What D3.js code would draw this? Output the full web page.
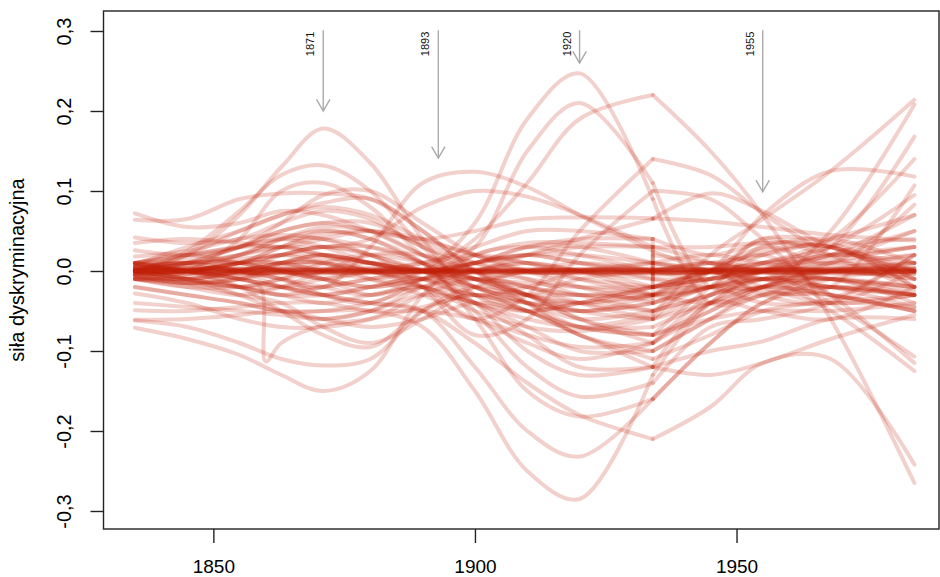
<!DOCTYPE html>
<html><head><meta charset="utf-8">
<script src="https://cdn.jsdelivr.net/npm/d3@7"></script>
<style>body{margin:0;background:#fff}svg text{font-family:"Liberation Sans",Arial,Helvetica,sans-serif}</style>
</head><body><svg id="c" width="940" height="577"></svg>
<script>
// ---------------- data ----------------
const years = [1835,1845,1855,1863,1871,1880,1890,1900,1910,1920,1934,1945,1955,1968,1984];
const breakYear = 1934;

const peakLines = [
  [0.000,0.020,0.070,0.130,0.178,0.135,0.040,-0.030,-0.050,-0.040,-0.020,0.000,0.025,0.030,-0.020],
  [0.000,0.025,0.075,0.120,0.132,0.100,0.030,-0.020,-0.030,-0.010,0.000,0.010,0.000,0.020,0.050],
  [0.005,0.005,0.000,-0.010,-0.020,0.030,0.110,0.124,0.105,0.070,0.025,0.000,-0.010,0.000,-0.010],
  [0.000,0.010,0.020,0.030,0.030,0.040,0.080,0.100,0.093,0.070,0.030,0.010,-0.020,-0.040,-0.030],
  [0.010,0.000,-0.020,-0.030,-0.030,-0.020,0.000,0.060,0.190,0.247,0.090,-0.040,-0.030,0.000,0.020],
  [0.000,-0.010,0.000,0.010,0.020,0.010,0.000,0.030,0.150,0.210,0.110,-0.020,-0.020,0.010,0.030],
  [0.000,-0.010,-0.020,-0.030,-0.020,-0.010,0.000,0.040,0.110,0.190,0.220,0.150,0.070,-0.060,-0.265],
  [0.000,0.000,0.010,0.010,0.000,0.000,-0.020,-0.060,-0.030,0.050,0.140,0.120,0.072,0.020,-0.020],
  [-0.005,-0.015,-0.010,0.000,0.010,0.000,-0.010,0.000,0.020,0.040,0.065,0.097,0.075,0.030,0.000],
  [0.000,0.010,0.030,0.050,0.060,0.050,0.040,0.050,0.065,0.067,0.066,0.062,0.055,0.045,0.038]
];
const risingLines = [
  [0.000,0.000,0.010,0.010,0.000,-0.010,-0.020,-0.040,-0.060,-0.070,-0.055,0.020,0.065,0.125,0.214],
  [0.010,0.000,0.000,0.010,0.020,0.010,0.000,-0.020,-0.040,-0.060,-0.050,-0.020,-0.020,0.050,0.208],
  [-0.010,-0.015,-0.020,-0.030,-0.040,-0.030,-0.020,-0.030,-0.040,-0.040,-0.030,0.000,0.070,0.125,0.118],
  [0.005,0.010,0.000,-0.010,-0.020,-0.030,-0.010,0.010,0.020,0.010,-0.010,-0.010,0.000,0.030,0.168],
  [-0.010,-0.020,-0.030,-0.020,0.000,0.020,0.020,0.000,-0.020,-0.030,-0.020,0.000,0.010,0.040,0.140],
  [0.000,0.010,0.030,0.040,0.030,0.010,-0.010,-0.030,-0.020,0.000,0.010,0.000,-0.025,-0.020,0.107],
  [-0.005,0.000,0.010,0.030,0.050,0.040,0.010,-0.010,0.000,0.010,0.000,-0.010,0.010,0.030,0.095],
  [0.005,0.010,0.010,0.000,-0.010,0.000,0.010,0.020,0.010,-0.010,-0.030,-0.020,0.030,0.010,0.083],
  [-0.005,-0.015,-0.010,0.010,0.020,0.010,0.000,0.010,0.030,0.030,0.010,0.000,0.005,0.020,0.070],
  [0.000,0.005,0.020,0.030,0.020,0.000,-0.020,-0.040,-0.050,-0.040,-0.020,0.000,0.010,0.015,0.050]
];
const fallingLines = [
  [0.000,0.000,-0.010,-0.020,-0.030,-0.040,-0.050,-0.090,-0.140,-0.180,-0.210,-0.170,-0.115,-0.110,-0.242],
  [0.010,0.020,0.010,0.000,-0.010,-0.020,-0.010,0.010,0.020,0.010,0.000,0.010,0.000,-0.040,-0.107],
  [-0.010,-0.020,-0.020,-0.010,0.010,0.020,0.010,-0.010,-0.030,-0.050,-0.030,0.000,0.020,-0.030,-0.115],
  [0.000,-0.010,-0.030,-0.050,-0.060,-0.050,-0.020,0.000,0.010,0.000,-0.010,-0.020,-0.010,-0.050,-0.125]
];
const troughLines = [
  [-0.020,-0.030,-0.040,-0.050,-0.050,-0.050,-0.070,-0.150,-0.250,-0.285,-0.130,-0.040,-0.010,0.000,0.010],
  [0.010,0.000,-0.010,-0.020,-0.030,-0.040,-0.050,-0.120,-0.200,-0.232,-0.160,-0.090,-0.040,-0.020,-0.030],
  [-0.071,-0.085,-0.105,-0.130,-0.150,-0.125,-0.030,0.020,0.030,0.020,0.000,0.000,0.040,0.035,-0.010],
  [-0.062,-0.070,-0.090,-0.110,-0.118,-0.110,-0.050,-0.020,-0.030,-0.050,-0.060,-0.030,-0.020,-0.030,-0.050],
  [0.010,0.020,0.030,0.040,0.040,0.020,0.000,-0.040,-0.100,-0.130,-0.120,-0.040,-0.050,-0.060,-0.020],
  [0.000,0.010,0.020,0.040,0.050,0.040,0.010,-0.050,-0.120,-0.157,-0.140,-0.070,-0.060,-0.040,0.020],
  [-0.005,-0.010,0.000,0.020,0.030,0.030,0.010,-0.060,-0.150,-0.182,-0.160,-0.090,-0.040,-0.010,0.000],
  [0.000,-0.010,-0.020,-0.010,0.000,0.010,0.000,-0.030,-0.050,-0.080,-0.120,-0.130,-0.115,-0.085,-0.055],
  [0.008,0.010,0.000,-0.020,-0.030,-0.020,-0.010,-0.040,-0.080,-0.120,-0.120,-0.100,-0.088,-0.060,-0.060]
];
const humpLines = [
  [0.064,0.065,0.090,0.097,0.097,0.090,0.050,0.000,-0.030,-0.040,-0.030,0.000,-0.030,-0.040,0.000],
  [-0.010,0.000,0.040,0.100,0.110,0.080,0.020,-0.010,-0.020,-0.030,-0.030,-0.010,0.040,0.020,0.030],
  [0.008,0.030,0.050,0.070,0.085,0.090,0.050,0.000,-0.040,-0.070,-0.080,-0.020,0.020,0.030,-0.020],
  [0.072,0.055,0.060,0.075,0.070,0.050,0.020,0.000,-0.010,-0.020,-0.030,-0.020,0.000,0.000,-0.010],
  [0.000,0.020,0.050,0.070,0.080,0.070,0.040,0.020,0.000,-0.020,-0.040,-0.020,-0.040,-0.035,0.020],
  [0.026,0.020,0.030,0.050,0.060,0.060,0.030,0.000,-0.030,-0.060,-0.090,-0.050,-0.020,-0.010,-0.040],
  [-0.010,-0.005,0.020,0.040,0.055,0.050,0.020,-0.010,-0.040,-0.080,-0.100,-0.060,-0.020,0.000,0.000],
  [0.018,0.025,0.040,0.045,0.040,0.030,0.010,-0.020,-0.050,-0.070,-0.070,-0.040,-0.020,-0.020,-0.030],
  [0.035,0.040,0.035,0.030,0.040,0.050,0.040,0.020,0.010,0.000,0.000,0.010,0.020,0.040,0.070],
  [0.042,0.035,0.040,0.060,0.075,0.065,0.030,0.010,0.000,-0.010,-0.020,-0.010,0.000,-0.010,-0.030],
  [0.010,0.015,0.030,0.060,0.095,0.100,0.060,0.020,0.000,0.000,0.010,0.020,0.010,0.000,0.010],
  [-0.005,0.000,0.010,0.030,0.045,0.050,0.035,0.010,-0.010,-0.030,-0.050,-0.030,-0.010,-0.010,-0.025]
];
const dipLines = [
  [-0.020,-0.030,-0.040,-0.050,-0.050,-0.040,-0.020,-0.010,-0.030,-0.060,-0.080,-0.050,-0.020,-0.010,-0.020],
  [-0.028,-0.040,-0.060,-0.070,-0.070,-0.060,-0.030,-0.010,-0.020,-0.040,-0.060,-0.040,-0.020,-0.030,-0.050],
  [-0.040,-0.045,-0.050,-0.055,-0.060,-0.050,-0.030,-0.040,-0.070,-0.100,-0.100,-0.060,-0.030,-0.020,-0.030],
  [-0.049,-0.050,-0.045,-0.040,-0.040,-0.050,-0.050,-0.060,-0.080,-0.095,-0.090,-0.030,0.000,0.020,0.010],
  [-0.061,-0.060,-0.055,-0.050,-0.060,-0.070,-0.060,-0.040,-0.050,-0.070,-0.080,-0.060,-0.050,-0.050,-0.040],
  [-0.005,-0.015,-0.030,-0.040,-0.070,-0.090,-0.060,-0.020,0.000,0.000,-0.020,-0.020,-0.010,-0.010,-0.020],
  [0.005,0.000,-0.020,-0.050,-0.080,-0.095,-0.050,-0.030,-0.050,-0.080,-0.110,-0.080,-0.050,-0.040,-0.045]
];
const midLines = [
  [0.000,-0.010,-0.020,-0.020,-0.010,0.000,0.010,0.030,0.050,0.050,0.040,0.020,0.035,0.030,-0.010],
  [0.010,0.000,0.000,-0.010,-0.030,-0.040,-0.010,0.020,0.035,0.035,0.030,0.030,0.035,0.030,0.000],
  [0.000,0.000,0.010,0.020,0.030,0.020,-0.020,-0.080,-0.060,0.020,0.100,0.090,0.040,-0.030,-0.030],
  [0.008,0.010,0.015,0.020,0.020,0.010,0.000,-0.010,-0.015,-0.020,-0.020,-0.010,0.000,0.005,0.010],
  [-0.008,-0.010,-0.005,0.005,0.015,0.010,0.000,0.010,0.020,0.020,0.010,0.000,-0.010,-0.020,-0.030],
  [0.004,0.000,-0.010,-0.020,-0.020,-0.010,0.000,-0.020,-0.040,-0.050,-0.040,-0.020,0.000,0.010,0.020],
  [-0.004,0.000,0.010,0.020,0.030,0.020,0.000,-0.010,-0.030,-0.040,-0.050,-0.030,-0.010,-0.020,-0.045],
  [0.003,0.010,0.010,0.000,-0.010,-0.020,-0.010,0.000,0.010,0.000,-0.030,-0.040,-0.030,-0.030,-0.050],
  [-0.010,-0.015,-0.010,0.000,-0.010,-0.030,-0.020,-0.050,-0.070,-0.075,-0.060,0.000,0.030,0.040,0.010],
  [0.000,0.000,0.000,0.010,0.010,-0.010,-0.030,-0.060,-0.090,-0.110,-0.090,-0.040,0.000,0.030,0.040]
];
const flatLines = [
  [0.001,0.001,0.001,0.001,0.001,0.001,0.001,0.001,0.001,0.001,0.001,0.001,0.001,0.001,0.001],
  [-0.001,-0.001,-0.001,-0.001,-0.001,-0.001,-0.001,-0.001,-0.001,-0.001,-0.001,-0.001,-0.001,-0.001,-0.001],
  [0.002,0.002,0.002,0.002,0.002,0.002,0.001,0.002,0.002,0.002,0.002,0.002,0.002,0.002,0.003],
  [-0.002,-0.002,-0.002,-0.002,-0.002,-0.002,-0.002,-0.002,-0.002,-0.002,-0.002,-0.002,-0.002,-0.002,-0.002],
  [0.000,0.000,0.000,0.000,0.000,0.000,0.000,0.000,0.000,0.000,0.000,0.000,0.000,0.000,0.000],
  [0.003,0.003,0.002,0.002,0.001,0.001,0.001,0.000,0.000,0.001,0.001,0.002,0.002,0.003,0.004],
  [-0.003,-0.003,-0.002,-0.002,-0.001,-0.001,0.000,0.000,-0.001,-0.001,-0.002,-0.002,-0.002,-0.003,-0.004],
  [0.002,0.002,0.003,0.003,0.003,0.003,0.002,0.001,0.001,0.002,0.002,0.002,0.002,0.002,0.002],
  [-0.001,-0.002,-0.003,-0.003,-0.003,-0.002,-0.001,-0.001,-0.002,-0.002,-0.002,-0.001,-0.001,-0.001,-0.001],
  [0.001,0.001,0.002,0.001,0.001,0.000,-0.001,-0.001,0.000,0.001,0.001,0.001,0.001,0.000,-0.001],
  [0.004,0.004,0.003,0.002,0.002,0.003,0.002,0.002,0.002,0.002,0.003,0.002,0.002,0.002,0.003],
  [-0.004,-0.004,-0.003,-0.002,-0.002,-0.002,-0.001,-0.002,-0.002,-0.003,-0.003,-0.002,-0.002,-0.002,-0.003]
];
// lines whose value jumps at 1934: value before the break, then value after, then the rest
const splitLines = [
  [0.010,0.020,0.030,0.030,0.020,0.010,0.000,0.010,0.030,0.040,0.040,-0.020,-0.010,0.000,0.010,0.000],
  [-0.010,-0.010,0.000,0.010,0.010,0.000,-0.010,-0.020,-0.030,-0.030,-0.035,0.020,0.010,0.000,-0.010,-0.020],
  [0.000,0.000,0.010,0.020,0.010,0.000,0.000,0.010,0.020,0.030,0.030,-0.005,0.000,0.010,0.020,0.030]
];
const kinkYears  = [1835,1845,1855,1859,1860,1863,1871,1880,1890,1900,1910,1920,1934,1945,1955,1968,1984];
const kinkValues = [0.005,0.000,-0.010,-0.020,-0.113,-0.090,-0.068,-0.060,-0.045,-0.030,-0.040,-0.050,-0.040,-0.020,-0.010,-0.020,-0.030];

const arrowYears = [1871, 1893, 1920, 1955];
const arrowLabels = ["1871", "1893", "1920", "1955"];
const arrowTips  = [0.200, 0.141, 0.260, 0.099];
const arrowTop   = 0.301;

const xTicks = [1850, 1900, 1950];
const xTickLabels = ["1850", "1900", "1950"];
const yTicks = [-0.3, -0.2, -0.1, 0.0, 0.1, 0.2, 0.3];
const yTickLabels = ["-0,3", "-0,2", "-0,1", "0,0", "0,1", "0,2", "0,3"];
const yTitle = "siła dyskryminacyjna";

// ---------------- drawing ----------------
const svg = d3.select("#c");
const x = d3.scaleLinear().domain([1829, 1988.7]).range([103.5, 939]);
const y = d3.scaleLinear().domain([-0.3225, 0.325]).range([529, 11]);

const curveLine = d3.line().x(d => x(d[0])).y(d => y(d[1])).curve(d3.curveCatmullRom.alpha(0.5));
const straight = d3.line().x(d => x(d[0])).y(d => y(d[1]));

const gl = svg.append("g")
  .attr("fill", "none")
  .attr("stroke", "rgb(192,32,10)")
  .attr("stroke-opacity", 0.21)
  .attr("stroke-width", 4)
  .attr("stroke-linecap", "round")
  .attr("stroke-linejoin", "round");

function drawSeries(yrs, vals) {
  const pts = yrs.map((yr, i) => [yr, vals[i]]);
  gl.append("path").attr("d", curveLine(pts.filter(p => p[0] <= breakYear)));
  gl.append("path").attr("d", curveLine(pts.filter(p => p[0] >= breakYear)));
}
[].concat(flatLines, midLines, dipLines, humpLines, troughLines, fallingLines, risingLines, peakLines)
  .forEach(v => drawSeries(years, v));
drawSeries(kinkYears, kinkValues);

const bi = years.indexOf(breakYear);
splitLines.forEach(v => {
  const left = years.slice(0, bi + 1).map((yr, i) => [yr, v[i]]);
  const right = [[breakYear, v[bi + 1]]].concat(years.slice(bi + 1).map((yr, i) => [yr, v[bi + 2 + i]]));
  gl.append("path").attr("d", curveLine(left));
  gl.append("path").attr("d", straight([[breakYear, v[bi]], [breakYear, v[bi + 1]]]));
  gl.append("path").attr("d", curveLine(right));
});

// arrows
const ga = svg.append("g");
arrowYears.forEach((yr, i) => {
  const ax = x(yr), y0 = y(arrowTop), y1 = y(arrowTips[i]);
  ga.append("line").attr("x1", ax).attr("x2", ax).attr("y1", y0).attr("y2", y1)
    .attr("stroke", "#aaaaaa").attr("stroke-width", 1.4);
  ga.append("path").attr("d", `M${ax - 6.7},${y1 - 11.6}L${ax},${y1}L${ax + 6.7},${y1 - 11.6}`)
    .attr("fill", "none").attr("stroke", "#aaaaaa").attr("stroke-width", 1.4);
  ga.append("text").attr("transform", `translate(${ax - 9},${y0 + 1.5}) rotate(-90)`)
    .attr("text-anchor", "end").attr("font-size", 11).attr("fill", "#111").text(arrowLabels[i]);
});

// box
svg.append("rect").attr("x", 103.5).attr("y", 11).attr("width", 835.5).attr("height", 518)
  .attr("fill", "none").attr("stroke", "#222").attr("stroke-width", 1.4);

// axes
const yAxis = svg.append("g").attr("transform", "translate(103.5,0)")
  .call(d3.axisLeft(y).tickValues(yTicks).tickSize(13).tickFormat((d, i) => yTickLabels[i]));
yAxis.select(".domain").remove();
yAxis.selectAll("line").attr("stroke", "#222").attr("stroke-width", 1.4);
yAxis.selectAll("text").attr("x", null).attr("dy", null)
  .attr("transform", "translate(-32.5,0) rotate(-90)")
  .attr("text-anchor", "middle").attr("font-size", 20).attr("fill", "#000")
  .style("font-family", "'Liberation Sans', Arial, sans-serif");

const xAxis = svg.append("g").attr("transform", "translate(0,529)")
  .call(d3.axisBottom(x).tickValues(xTicks).tickSize(14).tickFormat((d, i) => xTickLabels[i]));
xAxis.select(".domain").remove();
xAxis.selectAll("line").attr("stroke", "#222").attr("stroke-width", 1.4);
xAxis.selectAll("text").attr("y", 43.5).attr("dy", null)
  .attr("font-size", 19).attr("fill", "#000")
  .style("font-family", "'Liberation Sans', Arial, sans-serif");

svg.append("text").attr("transform", "translate(24,270) rotate(-90)")
  .attr("text-anchor", "middle").attr("font-size", 20).attr("fill", "#000").text(yTitle);
</script></body></html>
